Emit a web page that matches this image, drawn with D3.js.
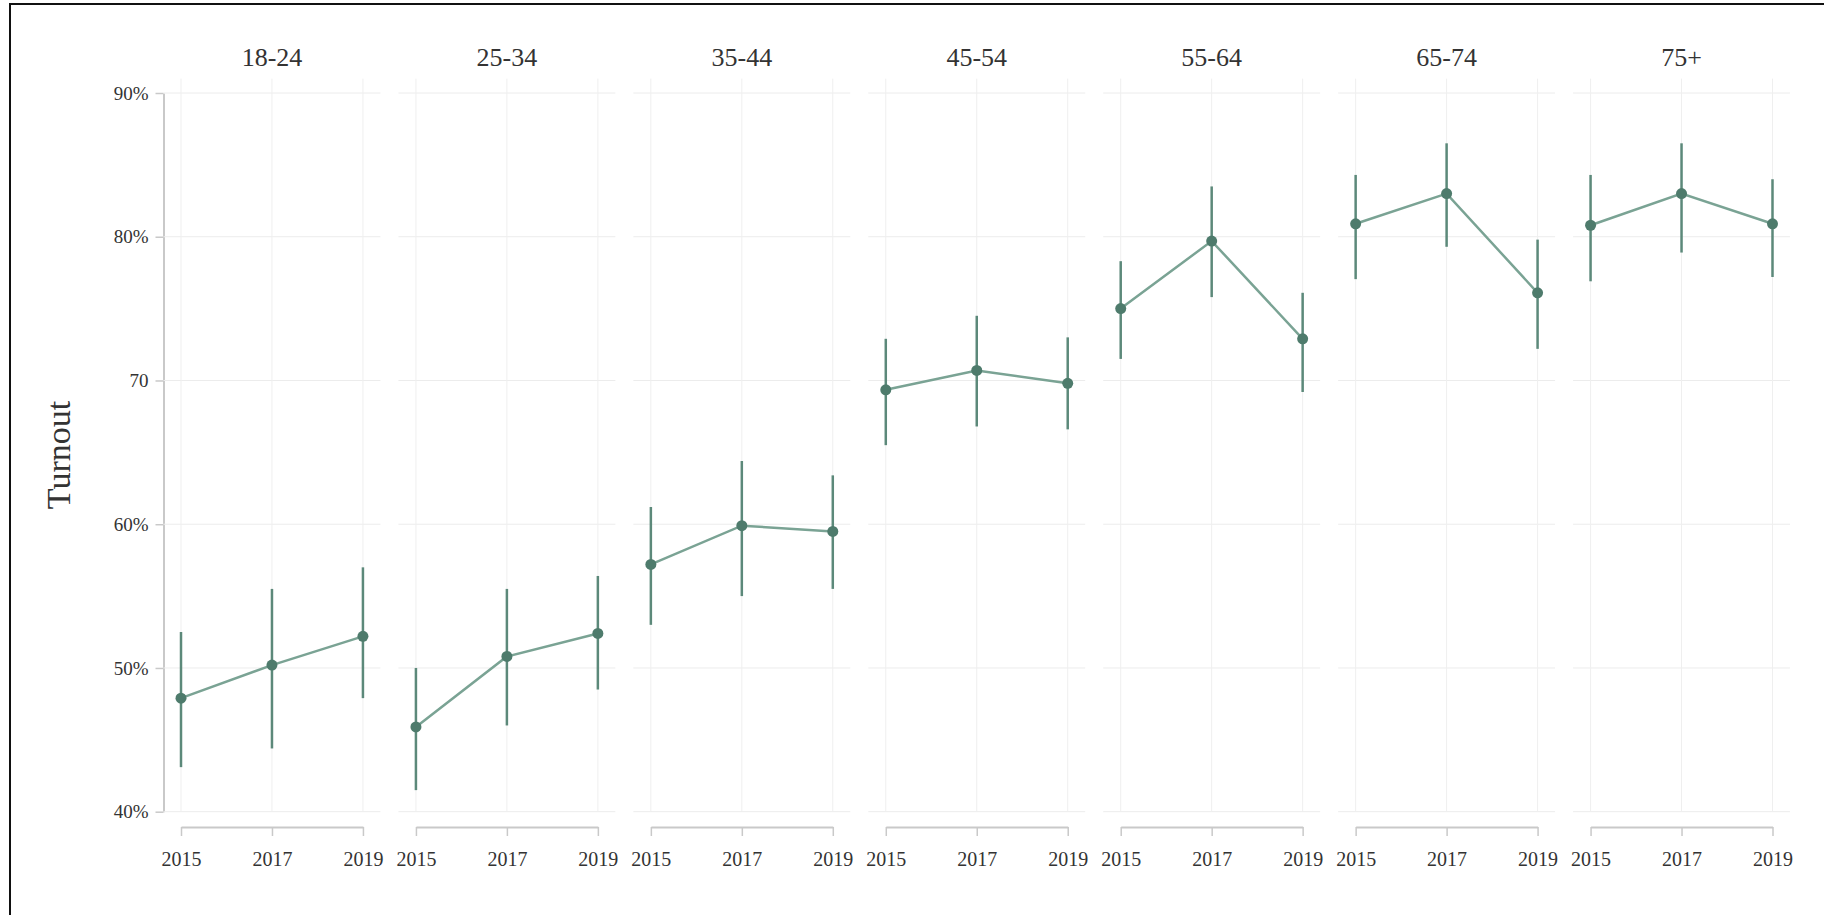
<!DOCTYPE html>
<html>
<head>
<meta charset="utf-8">
<script src="https://cdn.jsdelivr.net/npm/d3@7"></script>
<style>
  html, body { margin: 0; padding: 0; background: #ffffff; }
  svg { display: block; }
  text { font-family: "Liberation Serif", "DejaVu Serif", serif; fill: #333333; }
</style>
</head>
<body>
<script>
// Turnout by age group and election year, with confidence intervals
const ageGroups = ["18-24", "25-34", "35-44", "45-54", "55-64", "65-74", "75+"];
const years = [2015, 2017, 2019];

const turnout18_24 = [47.9, 50.2, 52.2];
const turnout25_34 = [45.9, 50.8, 52.4];
const turnout35_44 = [57.2, 59.9, 59.5];
const turnout45_54 = [69.35, 70.7, 69.8];
const turnout55_64 = [75.0, 79.7, 72.9];
const turnout65_74 = [80.9, 83.0, 76.1];
const turnout75plus = [80.8, 83.0, 80.9];

const lower18_24 = [43.1, 44.4, 47.9];
const lower25_34 = [41.5, 46.0, 48.5];
const lower35_44 = [53.0, 55.0, 55.5];
const lower45_54 = [65.5, 66.8, 66.6];
const lower55_64 = [71.5, 75.8, 69.2];
const lower65_74 = [77.05, 79.3, 72.2];
const lower75plus = [76.9, 78.9, 77.2];

const upper18_24 = [52.5, 55.5, 57.0];
const upper25_34 = [50.0, 55.5, 56.4];
const upper35_44 = [61.2, 64.4, 63.4];
const upper45_54 = [72.9, 74.5, 73.0];
const upper55_64 = [78.3, 83.5, 76.1];
const upper65_74 = [84.3, 86.5, 79.8];
const upper75plus = [84.3, 86.5, 84.0];

const yTickValues = [40, 50, 60, 70, 80, 90];
const yTickLabels = ["40%", "50%", "60%", "70", "80%", "90%"];

const turnoutByGroup = [turnout18_24, turnout25_34, turnout35_44, turnout45_54, turnout55_64, turnout65_74, turnout75plus];
const lowerByGroup = [lower18_24, lower25_34, lower35_44, lower45_54, lower55_64, lower65_74, lower75plus];
const upperByGroup = [upper18_24, upper25_34, upper35_44, upper45_54, upper55_64, upper65_74, upper75plus];

const panels = ageGroups.map((g, i) => ({
  group: g,
  points: years.map((yr, j) => ({
    year: yr,
    value: turnoutByGroup[i][j],
    lo: lowerByGroup[i][j],
    hi: upperByGroup[i][j]
  }))
}));

const W = 1824, H = 915;
const svg = d3.select("body").append("svg")
  .attr("width", W).attr("height", H);

svg.append("rect").attr("width", W).attr("height", H).attr("fill", "#ffffff");

// frame
svg.append("rect")
  .attr("x", 10).attr("y", 4)
  .attr("width", W + 20).attr("height", H + 20)
  .attr("fill", "none").attr("stroke", "#111111").attr("stroke-width", 2);

const y = d3.scaleLinear().domain([40, 90]).range([811.7, 93]);

const panelX = d3.scaleBand()
  .domain(ageGroups)
  .range([163.5, 1790])
  .paddingInner(0.0766)
  .paddingOuter(0);

const inset = 17.5;
const xIn = d3.scaleLinear()
  .domain([2015, 2019])
  .range([inset, panelX.bandwidth() - inset]);

const colDot = "#4e7b6c";
const colLine = "#7aa394";
const colErr = "#5c897a";

// y axis
const yAxis = d3.axisLeft(y)
  .tickValues(yTickValues)
  .tickFormat((d, i) => yTickLabels[i])
  .tickSize(8)
  .tickSizeOuter(0)
  .tickPadding(7);

const yAxisG = svg.append("g")
  .attr("transform", `translate(${panelX(ageGroups[0])},0)`)
  .call(yAxis);
yAxisG.select(".domain").attr("stroke", "#c9c9c9").attr("stroke-width", 2);
yAxisG.selectAll(".tick line").attr("stroke", "#c9c9c9").attr("stroke-width", 1.5);
yAxisG.selectAll(".tick text")
  .attr("font-size", 19)
  .attr("font-family", "Liberation Serif, serif")
  .attr("fill", "#444444");

// y axis title
svg.append("text")
  .attr("transform", "translate(70,455) rotate(-90)")
  .attr("text-anchor", "middle")
  .attr("font-size", 34)
  .attr("fill", "#333333")
  .text("Turnout");

const panelG = svg.selectAll("g.panel")
  .data(panels)
  .join("g")
  .attr("class", "panel")
  .attr("transform", d => `translate(${panelX(d.group)},0)`);

// gridlines
panelG.each(function () {
  const g = d3.select(this);
  g.selectAll("line.hgrid")
    .data(yTickValues)
    .join("line")
    .attr("class", "hgrid")
    .attr("x1", 0).attr("x2", panelX.bandwidth())
    .attr("y1", d => y(d)).attr("y2", d => y(d))
    .attr("stroke", "#ececec").attr("stroke-width", 1);
  g.selectAll("line.vgrid")
    .data(years)
    .join("line")
    .attr("class", "vgrid")
    .attr("x1", d => xIn(d)).attr("x2", d => xIn(d))
    .attr("y1", y(91)).attr("y2", y(40))
    .attr("stroke", "#efefef").attr("stroke-width", 1);
});

// panel titles
panelG.append("text")
  .attr("x", panelX.bandwidth() / 2)
  .attr("y", 66)
  .attr("text-anchor", "middle")
  .attr("font-size", 26)
  .attr("fill", "#333333")
  .text(d => d.group);

// bottom axes
const xAxis = d3.axisBottom(xIn)
  .tickValues(years)
  .tickFormat(d3.format("d"))
  .tickSize(9)
  .tickSizeOuter(0)
  .tickPadding(16);

panelG.append("g")
  .attr("class", "xaxis")
  .attr("transform", "translate(0,827)")
  .call(xAxis)
  .call(g => {
    g.select(".domain").attr("stroke", "#c9c9c9").attr("stroke-width", 2);
    g.selectAll(".tick line").attr("stroke", "#c9c9c9").attr("stroke-width", 1.5);
    g.selectAll(".tick text")
      .attr("font-size", 20)
      .attr("font-family", "Liberation Serif, serif")
      .attr("fill", "#333333");
  });

// confidence intervals
panelG.selectAll("line.err")
  .data(d => d.points)
  .join("line")
  .attr("class", "err")
  .attr("x1", d => xIn(d.year)).attr("x2", d => xIn(d.year))
  .attr("y1", d => y(d.hi)).attr("y2", d => y(d.lo))
  .attr("stroke", colErr).attr("stroke-width", 2.5);

// connecting line
const line = d3.line().x(d => xIn(d.year)).y(d => y(d.value));
panelG.append("path")
  .attr("d", d => line(d.points))
  .attr("fill", "none")
  .attr("stroke", colLine)
  .attr("stroke-width", 2.5);

// point estimates
panelG.selectAll("circle.pt")
  .data(d => d.points)
  .join("circle")
  .attr("class", "pt")
  .attr("cx", d => xIn(d.year))
  .attr("cy", d => y(d.value))
  .attr("r", 5.5)
  .attr("fill", colDot);
</script>
</body>
</html>
